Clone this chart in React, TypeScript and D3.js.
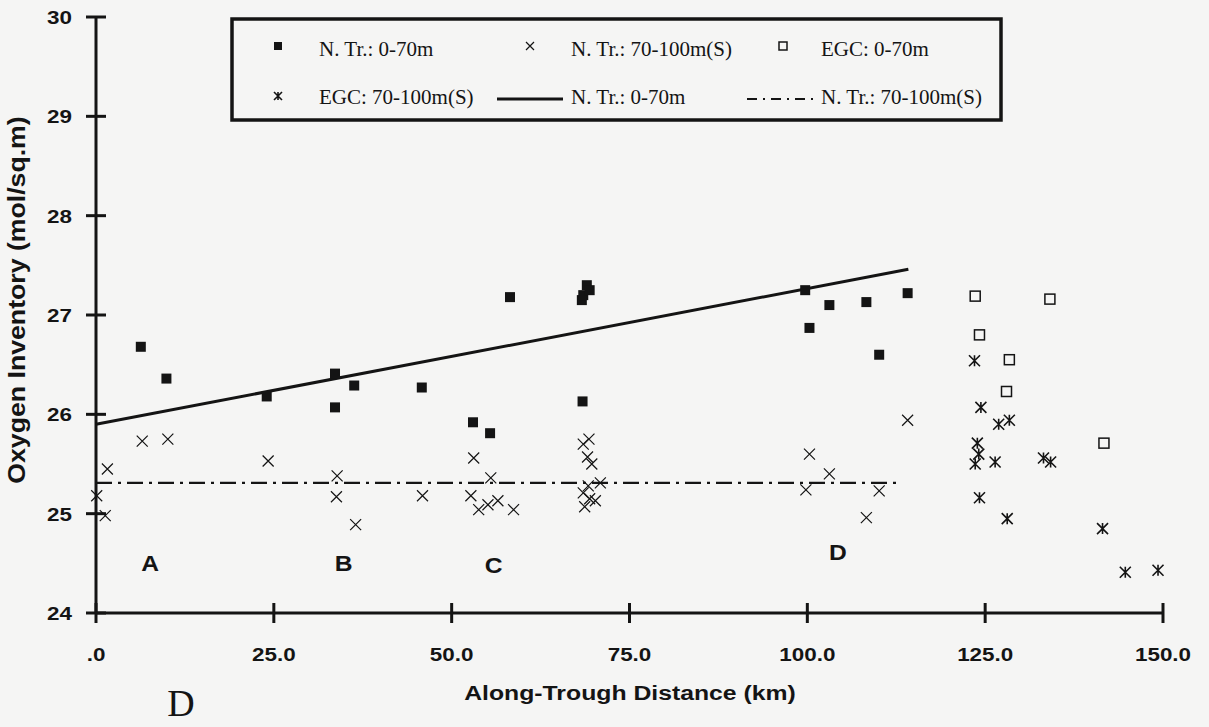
import React from "react";
import * as d3 from "d3";

// ---- Data ----
const xTicks = [0, 25, 50, 75, 100, 125, 150];
const xTickLabels = [".0", "25.0", "50.0", "75.0", "100.0", "125.0", "150.0"];
const yTicks = [24, 25, 26, 27, 28, 29, 30];

// N. Tr.: 0-70m (filled squares)
const ntrShallow: [number, number][] = [
  [6.3, 26.68], [9.9, 26.36], [24.0, 26.18], [33.6, 26.41], [33.6, 26.07],
  [36.3, 26.29], [45.8, 26.27], [53.0, 25.92], [55.4, 25.81], [68.4, 26.13],
  [58.2, 27.18], [68.3, 27.15], [68.5, 27.2], [69.0, 27.3], [69.4, 27.25],
  [99.7, 27.25], [100.3, 26.87], [103.1, 27.10], [108.3, 27.13], [114.1, 27.22],
  [110.1, 26.60],
];

// N. Tr.: 70-100m(S) (crosses)
const ntrDeep: [number, number][] = [
  [0.1, 25.18], [1.6, 25.45], [1.3, 24.98], [6.5, 25.73], [10.1, 25.75],
  [24.2, 25.53], [33.9, 25.38], [33.8, 25.17], [36.5, 24.89], [45.9, 25.18],
  [53.1, 25.56], [55.5, 25.36], [52.7, 25.18], [53.8, 25.04], [55.1, 25.09],
  [56.5, 25.13], [58.7, 25.04], [68.5, 25.70], [69.3, 25.75], [69.1, 25.57],
  [69.7, 25.50], [69.2, 25.28], [70.9, 25.31], [68.5, 25.21], [68.7, 25.07],
  [70.2, 25.13], [69.4, 25.15], [100.3, 25.60], [99.8, 25.24], [103.1, 25.40],
  [110.1, 25.23], [108.3, 24.96], [114.1, 25.94],
];

// EGC: 0-70m (open squares)
const egcShallow: [number, number][] = [
  [123.6, 27.19], [134.1, 27.16], [124.2, 26.80], [128.4, 26.55], [128.0, 26.23],
  [141.7, 25.71],
];

// EGC: 70-100m(S) (asterisks)
const egcDeep: [number, number][] = [
  [123.5, 26.54], [124.4, 26.07], [126.9, 25.90], [128.4, 25.94], [123.9, 25.71],
  [124.1, 25.60], [123.6, 25.50], [126.4, 25.52], [133.2, 25.56], [134.2, 25.52],
  [124.2, 25.16], [128.1, 24.95], [141.5, 24.85], [144.7, 24.41], [149.3, 24.43],
];

// regression lines
const fitShallow: [number, number][] = [[0, 25.9], [114.2, 27.46]];
const fitDeep: [number, number][] = [[0, 25.31], [113.3, 25.31]];

const regionLabels = ["A", "B", "C", "D"];
const regionX = [7.6, 34.8, 55.9, 104.3];
const regionY = [24.42, 24.42, 24.40, 24.53];

const legendRow1 = ["N. Tr.: 0-70m", "N. Tr.: 70-100m(S)", "EGC: 0-70m"];
const legendRow2 = ["EGC: 70-100m(S)", "N. Tr.: 0-70m", "N. Tr.: 70-100m(S)"];

// ---- Layout ----
const W = 1209, H = 727;
const x = d3.scaleLinear().domain([0, 150]).range([96, 1163]);
const y = d3.scaleLinear().domain([24, 30]).range([613, 17]);
const line = d3.line<[number, number]>().x(d => x(d[0])).y(d => y(d[1]));

const SANS = "'Liberation Sans', Arial, Helvetica, sans-serif";
const SERIF = "'Liberation Serif', 'Times New Roman', serif";
const INK = "#141414";
const SX = 1.18; // horizontal stretch of the sans lettering

function SText({ x: tx, y: ty, size, anchor = "middle", children, rotate = 0, sx = SX }:
  { x: number; y: number; size: number; anchor?: string; children: React.ReactNode; rotate?: number; sx?: number }) {
  return (
    <text transform={`translate(${tx},${ty}) rotate(${rotate}) scale(${sx},1)`} textAnchor={anchor}
      fontFamily={SANS} fontWeight="bold" fontSize={size} fill={INK}>{children}</text>
  );
}

function FilledSq({ cx, cy, s = 10 }: { cx: number; cy: number; s?: number }) {
  return <rect x={cx - s / 2} y={cy - s / 2} width={s} height={s} fill={INK} />;
}
function OpenSq({ cx, cy, s = 10 }: { cx: number; cy: number; s?: number }) {
  return <rect x={cx - s / 2} y={cy - s / 2} width={s} height={s} fill="none" stroke={INK} strokeWidth={1.5} />;
}
function Cross({ cx, cy, s = 11 }: { cx: number; cy: number; s?: number }) {
  const h = s / 2;
  return (
    <path d={`M${cx - h},${cy - h}L${cx + h},${cy + h}M${cx - h},${cy + h}L${cx + h},${cy - h}`}
      stroke={INK} strokeWidth={1.2} fill="none" />
  );
}
function Aster({ cx, cy, s = 11 }: { cx: number; cy: number; s?: number }) {
  const h = s / 2;
  return (
    <path d={`M${cx - h},${cy - h}L${cx + h},${cy + h}M${cx - h},${cy + h}L${cx + h},${cy - h}M${cx},${cy - h}L${cx},${cy + h}`}
      stroke={INK} strokeWidth={1.6} fill="none" />
  );
}

export default function App() {
  const legX = [278, 530, 783];
  const legTextX = [319, 571, 821];
  const row1Y = 46, row2Y = 96;
  return (
    <svg width={W} height={H} viewBox={`0 0 ${W} ${H}`}
      style={{ position: "absolute", left: 0, top: 0, display: "block", background: "#f5f5f4" }}>
      <rect x={0} y={0} width={W} height={H} fill="#f5f5f4" />

      {/* Axes */}
      <line x1={x(0)} x2={x(0)} y1={y(30)} y2={y(24)} stroke={INK} strokeWidth={3} />
      <line x1={x(0)} x2={x(150)} y1={y(24)} y2={y(24)} stroke={INK} strokeWidth={3} />
      {yTicks.map(t => (
        <g key={"yt" + t}>
          <line x1={x(0) - 10} x2={x(0) + 10} y1={y(t)} y2={y(t)} stroke={INK} strokeWidth={3} />
          <SText x={72} y={y(t) + 7} size={19} anchor="end">{t}</SText>
        </g>
      ))}
      {xTicks.map((t, i) => (
        <g key={"xt" + t}>
          <line x1={x(t)} x2={x(t)} y1={y(24) - 10} y2={y(24) + 10} stroke={INK} strokeWidth={3} />
          <SText x={x(t)} y={661} size={19}>{xTickLabels[i]}</SText>
        </g>
      ))}

      {/* Axis titles */}
      <SText x={630} y={700} size={21}>Along-Trough Distance (km)</SText>
      <SText x={25} y={300} size={23} rotate={-90} sx={1.16}>Oxygen Inventory (mol/sq.m)</SText>

      {/* Fit lines */}
      <path d={line(fitShallow) || ""} stroke={INK} strokeWidth={3} fill="none" />
      <path d={line(fitDeep) || ""} stroke={INK} strokeWidth={2.2} fill="none" strokeDasharray="16,6,3,6" />

      {/* Points */}
      {ntrShallow.map((d, i) => <FilledSq key={"a" + i} cx={x(d[0])} cy={y(d[1])} />)}
      {ntrDeep.map((d, i) => <Cross key={"b" + i} cx={x(d[0])} cy={y(d[1])} />)}
      {egcShallow.map((d, i) => <OpenSq key={"c" + i} cx={x(d[0])} cy={y(d[1])} />)}
      {egcDeep.map((d, i) => <Aster key={"e" + i} cx={x(d[0])} cy={y(d[1])} />)}

      {/* Region labels */}
      {regionLabels.map((l, i) => (
        <SText key={"r" + l} x={x(regionX[i])} y={y(regionY[i])} size={22} sx={1.12}>{l}</SText>
      ))}

      {/* Panel letter */}
      <text x={181} y={716} textAnchor="middle" fontFamily={SERIF} fontSize={38} fill={INK}>D</text>

      {/* Legend */}
      <rect x={232} y={19} width={769} height={101} fill="none" stroke={INK} strokeWidth={3.5} />
      <FilledSq cx={legX[0]} cy={row1Y} s={8} />
      <Cross cx={legX[1]} cy={row1Y} s={8} />
      <OpenSq cx={legX[2]} cy={row1Y} s={8} />
      <Aster cx={legX[0]} cy={row2Y} s={8} />
      <line x1={497} x2={563} y1={row2Y + 3} y2={row2Y + 3} stroke={INK} strokeWidth={3} />
      <line x1={747} x2={813} y1={row2Y + 3} y2={row2Y + 3} stroke={INK} strokeWidth={2} strokeDasharray="10,6,2,6" />
      {legendRow1.map((t, i) => (
        <text key={"l1" + i} x={legTextX[i]} y={56} fontFamily={SERIF} fontSize={21} fill={INK}>{t}</text>
      ))}
      {legendRow2.map((t, i) => (
        <text key={"l2" + i} x={legTextX[i]} y={104} fontFamily={SERIF} fontSize={21} fill={INK}>{t}</text>
      ))}
    </svg>
  );
}
